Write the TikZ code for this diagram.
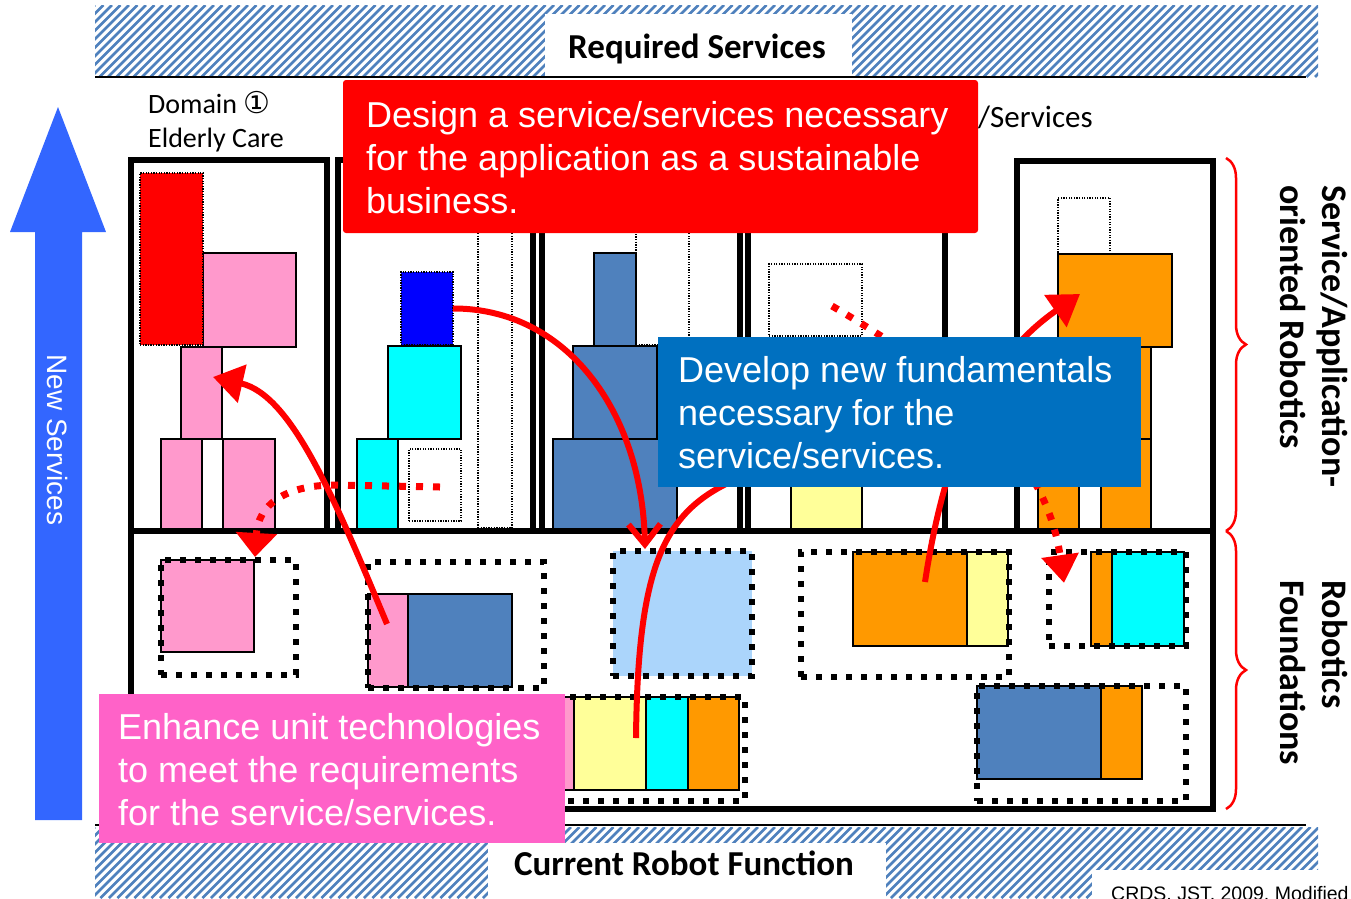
\documentclass[tikz,border=0pt]{standalone}
\usepackage{fontspec}
\setmainfont{Liberation Sans}
\newfontfamily\cali{Carlito}
\newfontfamily\djv{DejaVu Sans}
\usetikzlibrary{arrows.meta,decorations.pathreplacing}
\definecolor{hatchblue}{HTML}{4F81BD}
\definecolor{pinkc}{HTML}{FF99CC}
\definecolor{steel}{HTML}{4F81BD}
\definecolor{cyanc}{HTML}{00FFFF}
\definecolor{orangec}{HTML}{FF9900}
\definecolor{yellowc}{HTML}{FFFF99}
\definecolor{lightb}{HTML}{ABD5FB}
\definecolor{pureblue}{HTML}{0000FF}
\definecolor{boxblue}{HTML}{0070C0}
\definecolor{boxpink}{HTML}{FF62C8}
\definecolor{arrowblue}{HTML}{3366FF}
\newcommand\bx[6]{\node[#2,anchor=north west,inner sep=0pt,outer sep=0pt,minimum width={(#5-#3)*1pt},minimum height={(#6-#4)*1pt}] (#1) at (#3,#4) {};}
\tikzset{
  colbox/.style={draw=black,line width=6pt},
  solidr/.style={draw=black,line width=1.5pt},
  pinkr/.style={solidr,fill=pinkc},
  thindot/.style={draw=black,line width=1.3pt,dash pattern=on 1.3pt off 1.3pt},
  bigdot/.style={draw=black,line width=6pt,dash pattern=on 6pt off 9pt},
  redarrow/.style={draw=red,line width=6pt},
  reddots/.style={draw=red,line width=7pt,dash pattern=on 7pt off 10pt},
  boxtext/.style={anchor=north west,inner sep=0pt,align=left,text=white,font=\fontsize{36}{43}\selectfont},
  boldlab/.style={font=\cali\bfseries\fontsize{35}{42}\selectfont},
  sidelab/.style={font=\cali\bfseries\fontsize{36}{42}\selectfont,rotate=-90,anchor=north west,inner sep=0pt,align=left},
  bracestyle/.style={draw=red,line width=2.5pt,decorate,decoration={brace,amplitude=20pt}}
}
\begin{document}
\begin{tikzpicture}[x=1pt,y=-1pt]
\useasboundingbox (0,0) rectangle (1351,898);
% hatched bands
\begin{scope}
\clip (95,5) rectangle (1318,77);
\foreach \i in {0,...,160} \draw[hatchblue,line width=2.6pt] ({23+\i*8.5},77) -- ({95+\i*8.5},5);
\end{scope}
\begin{scope}
\clip (95,827) rectangle (1318,898);
\foreach \i in {0,...,160} \draw[hatchblue,line width=2.6pt] ({24+\i*8.5},898) -- ({95+\i*8.5},827);
\end{scope}
\bx{reqbg}{fill=white}{545}{14}{852}{78}
\bx{curbg}{fill=white}{488}{843}{886}{899}
\bx{crdsbg}{fill=white}{1092}{870}{1352}{899}
\coordinate (tl1) at (95,77); \coordinate (tl2) at (1306,77);
\coordinate (bl1) at (95,825); \coordinate (bl2) at (1306,825);
\draw[line width=1.5pt] (tl1) -- (tl2);
\draw[line width=1.5pt] (bl1) -- (bl2);
\node[boldlab,anchor=base] (req) at (697,58) {Required Services};
\node[boldlab,anchor=base] (cur) at (684,875) {Current Robot Function};
\node[anchor=base west,inner sep=0pt,font=\fontsize{19.5}{22}\selectfont] (crds) at (1111,900.5) {CRDS, JST, 2009, Modified};
% column 1
\bx{c1pa}{pinkr}{203}{253}{296}{347}
\bx{c1red}{fill=red,thindot}{140}{173}{203}{345}
\bx{c1pb}{pinkr}{181}{347}{222}{439}
\bx{c1pc}{pinkr}{161}{439}{202}{530}
\bx{c1pd}{pinkr}{223}{439}{275}{530}
% column 2
\bx{c2dl}{thindot}{478}{200}{512}{528}
\bx{c2blue}{fill=pureblue,thindot}{401}{272}{453}{345}
\bx{c2cya}{solidr,fill=cyanc}{388}{346}{461}{439}
\bx{c2cyb}{solidr,fill=cyanc}{357}{439}{398}{529}
\bx{c2dot}{thindot}{409}{449}{461}{521}
% column 3
\bx{c3dl}{thindot}{636}{150}{689}{345}
\bx{c3a}{solidr,fill=steel}{594}{253}{636}{346}
\bx{c3b}{solidr,fill=steel}{573}{346}{657}{439}
\bx{c3c}{solidr,fill=steel}{553}{439}{677}{530}
% column 4
\bx{c4dot}{thindot}{769}{264}{862}{336}
\bx{c4y}{solidr,fill=yellowc}{791}{440}{862}{530}
% column 5
\bx{c5dot}{thindot}{1058}{198}{1110}{254}
\bx{c5o1}{solidr,fill=orangec}{1058}{254}{1172}{347}
\bx{c5o2}{solidr,fill=orangec}{1080}{347}{1151}{439}
\bx{c5o3}{solidr,fill=orangec}{1038}{439}{1079}{530}
\bx{c5o4}{solidr,fill=orangec}{1101}{439}{1151}{530}
% frames
\bx{col1}{colbox}{131}{160}{327}{531}
\bx{col2}{colbox}{338}{160}{533}{531}
\bx{col3}{colbox}{542}{160}{740}{531}
\bx{col4}{colbox}{748}{160}{945}{531}
\bx{col5}{colbox}{1017}{161}{1213}{531}
\bx{lower}{colbox}{131}{531}{1213}{809}
% lower boxes
\bx{bApink}{pinkr}{161}{560}{254}{652}
\bx{bA}{bigdot}{161}{560}{296}{675}
\bx{bBp}{pinkr}{368}{594}{408}{687}
\bx{bBb}{solidr,fill=steel}{408}{594}{512}{687}
\bx{bB}{bigdot}{368}{562}{544}{688}
\bx{bC}{bigdot,fill=lightb}{613}{551}{752}{676}
\bx{bDo}{solidr,fill=orangec}{853}{552}{967}{646}
\bx{bDy}{solidr,fill=yellowc}{967}{552}{1008}{646}
\bx{bD}{bigdot}{801}{552}{1009}{677}
\bx{bEo}{solidr,fill=orangec}{1091}{552}{1112}{646}
\bx{bEc}{solidr,fill=cyanc}{1112}{552}{1184}{646}
\bx{bE}{bigdot}{1049}{552}{1186}{646}
\bx{bFb}{solidr,fill=steel}{977}{686}{1101}{779}
\bx{bFo}{solidr,fill=orangec}{1101}{686}{1142}{779}
\bx{bF}{bigdot}{977}{686}{1186}{801}
\bx{bGp}{solidr,fill=pinkc}{553}{697}{574}{790}
\bx{bGy}{solidr,fill=yellowc}{574}{697}{646}{790}
\bx{bGc}{solidr,fill=cyanc}{646}{697}{688}{790}
\bx{bGo}{solidr,fill=orangec}{688}{697}{739}{790}
\bx{bG}{bigdot}{553}{697}{745}{801}
% arrows under the text boxes
\coordinate (a4s) at (636,738); \coordinate (a4e) at (765,468);
\draw[redarrow] (a4s) .. controls (638,540) and (672,500) .. (a4e);
\coordinate (a5s) at (925,582); \coordinate (a5e) at (1080,294);
\draw[redarrow,-{Triangle[length=30pt,width=38pt]}] (a5s) .. controls (945,450) and (985,360) .. (a5e);
\coordinate (a6s) at (832,306); \coordinate (a6e) at (1064,583);
\draw[reddots,-{Triangle[length=28pt,width=36pt]}] (a6s) .. controls (950,375) and (1045,450) .. (a6e);
\coordinate (a1e) at (645,549);
\draw[redarrow,-{Straight Barb[length=20pt,width=32pt]}] (c2blue.east) .. controls (565,308) and (642,410) .. (a1e);
\coordinate (a2s) at (387,624); \coordinate (a2e) at (213,377);
\draw[redarrow,-{Triangle[length=30pt,width=38pt]}] (a2s) .. controls (335,500) and (292,395) .. (a2e);
\coordinate (a3s) at (440,487); \coordinate (a3m) at (335,485); \coordinate (a3e) at (255,557);
\draw[reddots,-{Triangle[length=24pt,width=40pt]}] (a3s) -- (a3m) .. controls (285,485) and (258,505) .. (a3e);
% text boxes
\bx{redbox}{fill=red,rounded corners=3pt}{343}{80}{978}{233}
\node[boxtext] (redtxt) at (366,101) {Design a service/services necessary\\for the application as a sustainable\\business.};
\bx{bluebox}{fill=boxblue}{658}{337}{1141}{487}
\node[boxtext] (bluetxt) at (678,356) {Develop new fundamentals\\necessary for the\\service/services.};
\bx{pinkbox}{fill=boxpink}{99}{694}{565}{843}
\node[boxtext] (pinktxt) at (118,713) {Enhance unit technologies\\to meet the requirements\\for the service/services.};
% labels
\node[anchor=base west,inner sep=0pt,font=\cali\fontsize{28}{33}\selectfont] (dom1) at (148,113) {Domain {\djv\fontsize{30}{33}\selectfont ①}};
\node[anchor=base west,inner sep=0pt,font=\cali\fontsize{28}{33}\selectfont] (dom1b) at (148,147) {Elderly Care};
\node[anchor=base west,inner sep=0pt,font=\cali\fontsize{31}{33}\selectfont] (servs) at (978,127) {/Services};
% braces
\coordinate (br1) at (1226,158); \coordinate (br2) at (1226,531); \coordinate (br3) at (1226,809);
\draw[bracestyle] (br1) -- (br2);
\draw[bracestyle] (br2) -- (br3);
\node[sidelab] (sar) at (1348,185) {Service/Application-\\oriented Robotics};
\node[sidelab] (rf) at (1348,580) {Robotics\\Foundations};
% new services arrow
\fill[arrowblue] (35,820) -- (82,820) -- (82,232) -- (106,232) -- (58,107) -- (10,232) -- (35,232) -- cycle;
\node[rotate=-90,text=white,font=\fontsize{28}{30}\selectfont] (newsv) at (58,440) {New Services};
\end{tikzpicture}
\end{document}
